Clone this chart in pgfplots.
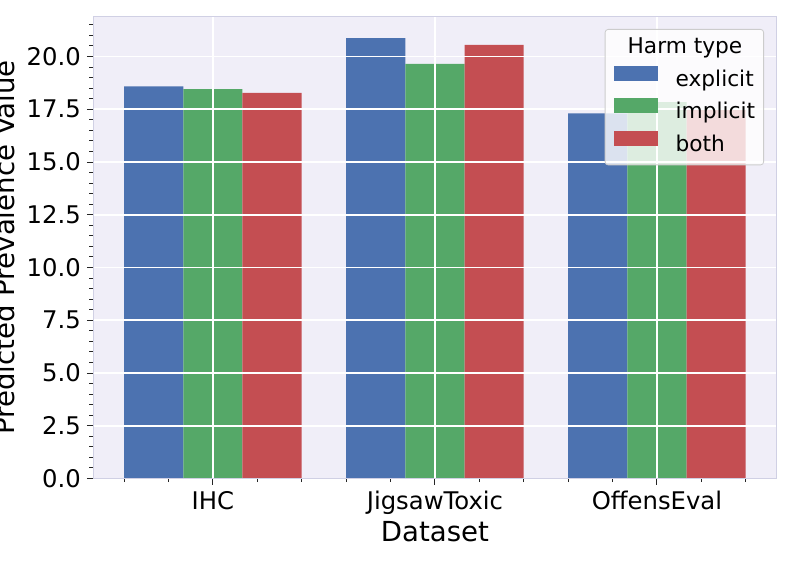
\documentclass[border=0pt]{standalone}
\usepackage{fontspec}
\setmainfont{DejaVu Sans}
\usepackage{pgfplots}
\pgfplotsset{compat=1.18}
\definecolor{cblue}{RGB}{76,114,176}
\definecolor{cgreen}{RGB}{85,168,104}
\definecolor{cred}{RGB}{196,78,82}
\definecolor{bgcol}{RGB}{240,238,248}
\definecolor{spinecol}{RGB}{208,208,228}
\definecolor{legframe}{RGB}{204,204,204}
\pgfplotsset{mybarleg/.style={legend image code/.code={\fill[##1,fill opacity=1,sharp corners] (0bp,0bp) rectangle (44bp,15bp);}}}
\begin{document}
\begin{tikzpicture}
\path[use as bounding box] (0,0) rectangle (793bp,566bp);
\clip (0,0) rectangle (793bp,566bp);
\begin{axis}[
  at={(93bp,87.5bp)}, anchor=south west,
  scale only axis, width=683.8bp, height=462.3bp,
  xmin=-0.54, xmax=2.54, ymin=0, ymax=21.91,
  ybar, bar width=0.26667,
  xtick={0,1,2}, xticklabels={IHC,JigsawToxic,OffensEval},
  minor xtick={-0.4,-0.2,0.2,0.4,0.6,0.8,1.2,1.4,1.6,1.8,2.2,2.4},
  ytick={0,2.5,...,20},
  minor ytick={0.5,1,...,21.5},
  /pgf/number format/assume math mode=true,
  tick label style={font=\fontsize{24.3bp}{29bp}\selectfont, black},
  yticklabel style={anchor=east, inner sep=0pt, xshift=-6bp, /pgf/number format/fixed, /pgf/number format/fixed zerofill, /pgf/number format/precision=1},
  xticklabel style={anchor=north, inner sep=0pt, text height=18.5bp, text depth=5bp, yshift=-6.3bp},
  axis background/.style={fill=bgcol},
  axis line style={spinecol, line width=1bp},
  tick style={black!85, line width=0.9bp},
  major tick length=6bp, minor tick length=3.5bp,
  tick align=outside, tick pos=left,
  xmajorgrids, ymajorgrids,
  major grid style={white, line width=1.6bp},
  axis on top,
  xlabel={Dataset},
  ylabel={Predicted Prevalence Value},
  label style={font=\fontsize{27.6bp}{33bp}\selectfont},
  xlabel style={at={(axis description cs:0.5,0)}, anchor=base, yshift=-63.2bp},
  ylabel style={at={(axis description cs:0,0.5)}, anchor=base, yshift=78bp},
  legend cell align=left,
  legend style={at={(0.9813,0.9723)}, anchor=north east, draw=legframe, line width=0.8bp,
    rounded corners=3bp, fill=white, fill opacity=0.8, text opacity=1,
    inner sep=8.5bp, column sep=18bp, row sep=7bp,
    font=\fontsize{21.7bp}{26bp}\selectfont,
    nodes={inner sep=0pt, text height=16bp, text depth=5bp}},
]
\addlegendimage{empty legend}
\addlegendentry{\hspace*{-48bp}Harm type}
\addplot[fill=cblue, draw=none, bar shift=-0.26667, mybarleg] coordinates {(0,18.58) (1,20.87) (2,17.31)};
\addlegendentry{explicit}
\addplot[fill=cgreen, draw=none, bar shift=0, mybarleg] coordinates {(0,18.45) (1,19.65) (2,17.84)};
\addlegendentry{implicit}
\addplot[fill=cred, draw=none, bar shift=0.26667, mybarleg] coordinates {(0,18.28) (1,20.55) (2,17.47)};
\addlegendentry{both}
\end{axis}
\end{tikzpicture}
\end{document}
